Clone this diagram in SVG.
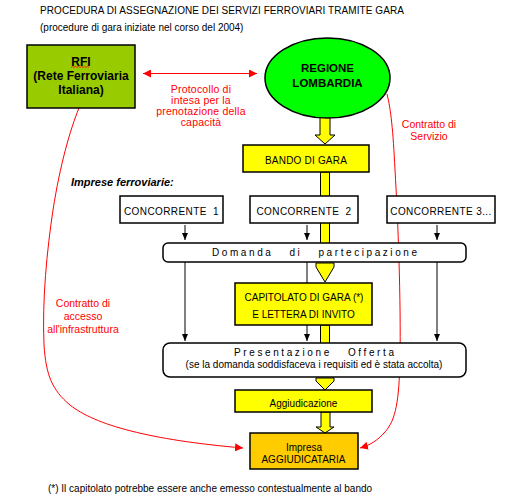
<svg xmlns="http://www.w3.org/2000/svg" width="522" height="504" viewBox="0 0 522 504">
<defs>
<style>
text{font-family:"Liberation Sans",Arial,sans-serif;fill:#000;}
.t10{font-size:10px;}
.c{text-anchor:middle;}
.pre{white-space:pre;}
.b12{font-size:12px;font-weight:bold;}
.red{fill:#FF0000;font-size:10.5px;}
.box{stroke:#000;stroke-width:1.5;}
.ya{fill:#FFFF00;stroke:#000;stroke-width:1;}
.bl{stroke:#000;stroke-width:1;fill:none;}
.rl{stroke:#FF0000;stroke-width:1;fill:none;}
</style>
<marker id="rh" viewBox="0 0 8 8" refX="8" refY="4" markerWidth="8" markerHeight="8" markerUnits="userSpaceOnUse" orient="auto">
<path d="M0,0 L8,4 L0,8 Z" fill="#FF0000"/>
</marker>
<marker id="rhs" viewBox="0 0 8 8" refX="8" refY="4" markerWidth="8" markerHeight="8" markerUnits="userSpaceOnUse" orient="auto-start-reverse">
<path d="M0,0 L8,4 L0,8 Z" fill="#FF0000"/>
</marker>
<marker id="bh" viewBox="0 0 6 7" refX="3" refY="7" markerWidth="6" markerHeight="7" markerUnits="userSpaceOnUse" orient="0">
<path d="M0,0 L6,0 L3,7 Z" fill="#000"/>
</marker>
</defs>
<rect width="522" height="504" fill="#fff"/>

<g id="titles">
<text class="t10" x="40" y="14" style="letter-spacing:0.07px;">PROCEDURA DI ASSEGNAZIONE DEI SERVIZI FERROVIARI TRAMITE GARA</text>
<text class="t10" x="40" y="30.5">(procedure di gara iniziate nel corso del 2004)</text>
<text x="71" y="186" style="font-size:11px;font-weight:bold;font-style:italic;">Imprese ferroviarie:</text>
<text class="t10" x="48" y="492">(*) Il capitolato potrebbe essere anche emesso contestualmente al bando</text>
</g>

<g id="connectors">
<line class="rl" x1="143" y1="73.5" x2="257" y2="73.5" marker-start="url(#rhs)" marker-end="url(#rh)"/>
<path class="rl" d="M79,108 C70,130 60,165 53,210 C47,250 42,300 44,345 C46,375 52,390 70,405 C95,425 150,440 243,448" marker-end="url(#rh)"/>
<path class="rl" d="M387,94 C391,110 393,130 395,170 C398,220 401,300 400,360 C399,400 396,420 385,432 C377,441 370,445 360,448" marker-end="url(#rh)"/>
<line class="bl" x1="185" y1="225" x2="185" y2="240" marker-end="url(#bh)"/>
<line class="bl" x1="307" y1="225" x2="307" y2="240" marker-end="url(#bh)"/>
<line class="bl" x1="437" y1="225" x2="437" y2="240" marker-end="url(#bh)"/>
<line class="bl" x1="185" y1="262" x2="185" y2="341" marker-end="url(#bh)"/>
<line class="bl" x1="307" y1="262" x2="307" y2="341" marker-end="url(#bh)"/>
<line class="bl" x1="437" y1="262" x2="437" y2="341" marker-end="url(#bh)"/>
<polygon class="ya" points="320,116 330,116 330,135 335,135 325,144 315,135 320,135"/>
<rect class="ya" x="320.5" y="172" width="9" height="72"/>
<polygon class="ya" points="316,263 334,263 334,267 325,282 316,267"/>
<rect class="ya" x="320.5" y="325" width="9" height="19"/>
<polygon class="ya" points="316,378 334,378 334,381 325,390 316,381"/>
<polygon class="ya" points="321,412 330,412 330,427 334,427 325,433 316,427 321,427"/>
</g>

<g id="rfi">
<rect class="box" x="27" y="45" width="108" height="63" fill="#99CC00"/>
<text class="b12 c" x="81" y="66">RFI</text>
<path d="M71,67.5 l1.5,-1.2 l1.5,1.2 l1.5,-1.2 l1.5,1.2 l1.5,-1.2 l1.5,1.2 l1.5,-1.2 l1.5,1.2 l1.5,-1.2 l1.5,1.2 l1.5,-1.2 l1.5,1.2" stroke="#FF0000" stroke-width="0.8" fill="none"/>
<text class="b12 c" x="81" y="80">(Rete Ferroviaria</text>
<text class="b12 c" x="81" y="94">Italiana)</text>
</g>

<g id="protocollo">
<text class="red c" x="201" y="92.5" style="letter-spacing:0.2px;">Protocollo di</text>
<text class="red c" x="201" y="103.5" style="letter-spacing:0.2px;">intesa per la</text>
<text class="red c" x="201" y="114.5" style="letter-spacing:0.2px;">prenotazione della</text>
<text class="red c" x="201" y="125.5" style="letter-spacing:0.2px;">capacità</text>
</g>

<g id="regione">
<ellipse class="box" cx="327.5" cy="78" rx="62.5" ry="40" fill="#00FF00"/>
<text class="c" x="327.5" y="72" style="font-size:11.5px;font-weight:bold;">REGIONE</text>
<text class="c" x="327.5" y="86.5" style="font-size:11.5px;font-weight:bold;">LOMBARDIA</text>
</g>

<g id="contratto-servizio">
<text class="red c" x="429" y="127.5">Contratto di</text>
<text class="red c" x="429" y="140">Servizio</text>
</g>

<g id="contratto-accesso">
<text class="red c" x="83" y="307">Contratto di</text>
<text class="red c" x="83" y="320">accesso</text>
<text class="red c" x="83" y="333">all'infrastruttura</text>
</g>

<g id="bando">
<rect class="box" x="243" y="145" width="126" height="27" fill="#FFFF00"/>
<text class="t10 c" x="306" y="163.5" style="letter-spacing:0.2px;">BANDO DI GARA</text>
</g>

<g id="concorrente1">
<rect class="box" x="120" y="196" width="103" height="27" fill="#fff"/>
<text class="t10 c pre" x="171.5" y="215" style="letter-spacing:0.4px;">CONCORRENTE  1</text>
</g>
<g id="concorrente2">
<rect class="box" x="250" y="196" width="108" height="27" fill="#fff"/>
<text class="t10 c pre" x="304" y="215" style="letter-spacing:0.4px;">CONCORRENTE  2</text>
</g>
<g id="concorrente3">
<rect class="box" x="387" y="196" width="108" height="27" fill="#fff"/>
<text class="t10 c" x="441" y="215" style="letter-spacing:0.4px;">CONCORRENTE 3...</text>
</g>

<g id="domanda">
<rect class="box" x="163" y="243" width="303" height="19" rx="5" fill="#fff"/>
<text class="t10 pre" x="212" y="256" textLength="205" lengthAdjust="spacing">Domanda   di   partecipazione</text>
</g>

<g id="capitolato">
<rect class="box" x="235" y="283" width="137" height="42" fill="#FFFF00"/>
<text class="t10 c" x="304" y="300.5">CAPITOLATO DI GARA (*)</text>
<text class="t10 c" x="303.5" y="318">E LETTERA DI INVITO</text>
</g>

<g id="presentazione">
<rect class="box" x="163" y="343" width="303" height="34" rx="7" fill="#fff"/>
<text class="t10 pre" x="234" y="355.5" textLength="160" lengthAdjust="spacing">Presentazione   Offerta</text>
<text class="t10 c" x="314" y="367.5">(se la domanda soddisfaceva i requisiti ed è stata accolta)</text>
</g>

<g id="aggiudicazione">
<rect class="box" x="235" y="390" width="137" height="22" fill="#FFFF00"/>
<text class="t10 c" x="303.5" y="406.5">Aggiudicazione</text>
</g>

<g id="impresa">
<rect class="box" x="250" y="433" width="108" height="36" fill="#FFCC00"/>
<text class="t10 c" x="304" y="450.5">Impresa</text>
<text class="t10 c" x="303.5" y="462.5">AGGIUDICATARIA</text>
</g>
</svg>
